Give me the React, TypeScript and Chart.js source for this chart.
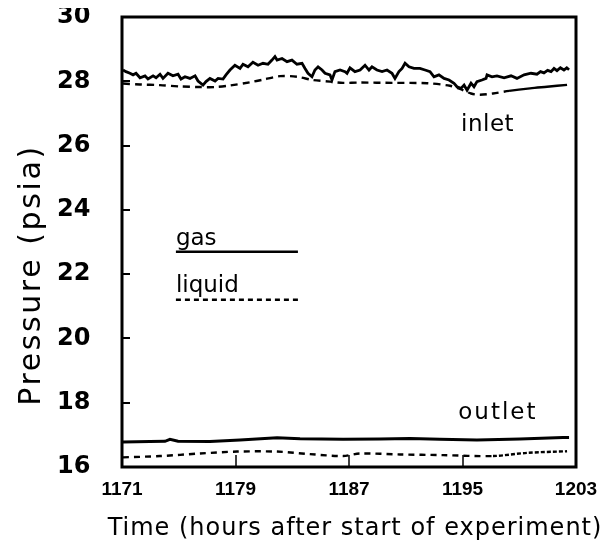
import React, { useEffect, useRef } from 'react';
import { Chart, registerables } from 'chart.js';

Chart.register(...registerables);

// ---- data ----
const X_TICKS = [1171, 1179, 1187, 1195, 1203];
const Y_TICKS = [16, 18, 20, 22, 24, 26, 28, 30];

const inletGasT = [1171.07, 1171.28, 1171.56, 1171.78, 1171.99, 1172.27, 1172.62, 1172.83, 1173.19, 1173.4, 1173.68, 1173.89, 1174.24, 1174.59, 1174.95, 1175.16, 1175.44, 1175.79, 1176.15, 1176.36, 1176.71, 1176.92, 1177.2, 1177.56, 1177.77, 1178.12, 1178.33, 1178.61, 1178.96, 1179.32, 1179.53, 1179.88, 1180.23, 1180.59, 1180.94, 1181.29, 1181.57, 1181.78, 1181.93, 1182.28, 1182.63, 1182.98, 1183.33, 1183.69, 1183.9, 1184.11, 1184.39, 1184.6, 1184.82, 1185.1, 1185.31, 1185.66, 1185.8, 1186.01, 1186.37, 1186.72, 1186.86, 1187.07, 1187.42, 1187.78, 1188.13, 1188.41, 1188.62, 1188.97, 1189.33, 1189.68, 1190.03, 1190.24, 1190.52, 1190.74, 1190.95, 1191.23, 1191.58, 1192.0, 1192.36, 1192.71, 1192.99, 1193.34, 1193.7, 1194.05, 1194.4, 1194.61, 1194.89, 1195.11, 1195.32, 1195.6, 1195.81, 1196.02, 1196.37, 1196.66, 1196.73, 1197.08, 1197.43, 1197.93, 1198.42, 1198.84, 1199.34, 1199.83, 1200.25, 1200.5, 1200.74, 1201.0, 1201.24, 1201.45, 1201.66, 1201.9, 1202.15, 1202.35, 1202.51];
const inletGasP = [28.35, 28.3, 28.25, 28.2, 28.25, 28.11, 28.17, 28.07, 28.17, 28.11, 28.22, 28.09, 28.25, 28.17, 28.22, 28.07, 28.14, 28.09, 28.17, 28.01, 27.88, 27.99, 28.09, 28.01, 28.09, 28.07, 28.2, 28.35, 28.5, 28.4, 28.53, 28.45, 28.59, 28.5, 28.56, 28.53, 28.66, 28.77, 28.66, 28.71, 28.61, 28.66, 28.53, 28.56, 28.4, 28.25, 28.14, 28.35, 28.45, 28.35, 28.25, 28.2, 28.04, 28.3, 28.35, 28.3, 28.25, 28.42, 28.3, 28.35, 28.5, 28.35, 28.45, 28.35, 28.3, 28.35, 28.25, 28.09, 28.3, 28.4, 28.56, 28.45, 28.4, 28.4, 28.35, 28.3, 28.14, 28.2, 28.09, 28.04, 27.94, 27.83, 27.78, 27.88, 27.72, 27.94, 27.83, 27.99, 28.04, 28.09, 28.2, 28.14, 28.17, 28.11, 28.17, 28.09, 28.2, 28.25, 28.22, 28.3, 28.26, 28.34, 28.3, 28.4, 28.33, 28.42, 28.35, 28.42, 28.36];

const inletLiqT = [1171.07, 1172.27, 1173.68, 1175.09, 1176.5, 1177.56, 1178.61, 1180.02, 1180.94, 1182.14, 1183.33, 1184.46, 1185.66, 1186.58, 1187.78, 1190.1, 1192.5, 1194.12, 1194.82, 1195.6, 1196.23, 1197.15, 1198.28, 1199.76, 1200.96, 1202.37];
const inletLiqP = [27.93, 27.9, 27.88, 27.84, 27.82, 27.82, 27.87, 27.97, 28.05, 28.16, 28.14, 28.04, 27.99, 27.95, 27.96, 27.95, 27.94, 27.86, 27.76, 27.62, 27.58, 27.62, 27.7, 27.78, 27.83, 27.89];

const outletGasT = [1171.07, 1172.97, 1174.03, 1174.38, 1174.95, 1177.2, 1179.32, 1181.93, 1183.55, 1186.58, 1189.18, 1191.3, 1193.41, 1196.02, 1199.05, 1202.08, 1202.51];
const outletGasP = [16.78, 16.79, 16.8, 16.86, 16.8, 16.79, 16.84, 16.91, 16.88, 16.86, 16.87, 16.89, 16.86, 16.84, 16.87, 16.92, 16.92];

const outletLiqT = [1171.07, 1173.68, 1176.5, 1179.11, 1181.93, 1184.25, 1186.58, 1187.78, 1190.6, 1193.63, 1197.15, 1199.55, 1202.37];
const outletLiqP = [16.3, 16.34, 16.42, 16.48, 16.48, 16.4, 16.34, 16.42, 16.39, 16.37, 16.34, 16.44, 16.49];

const zip = (t: number[], p: number[]) => t.map((v, i) => ({ x: v, y: p[i] }));

const FONT = "'DejaVu Sans', 'Liberation Sans', sans-serif";

const decorPlugin = {
  id: 'decor',
  afterDatasetsDraw(chart: any) {
    const { ctx, chartArea: a, scales } = chart;
    const x = scales.x;
    const y = scales.y;
    ctx.save();
    ctx.strokeStyle = '#000';
    ctx.fillStyle = '#000';
    // inward ticks
    ctx.lineWidth = 2;
    Y_TICKS.forEach((v) => {
      const py = Math.round(y.getPixelForValue(v));
      ctx.beginPath();
      ctx.moveTo(a.left, py);
      ctx.lineTo(a.left + 8, py);
      ctx.stroke();
    });
    ctx.lineWidth = 1.5;
    X_TICKS.slice(1, -1).forEach((v) => {
      const px = Math.round(x.getPixelForValue(v));
      ctx.beginPath();
      ctx.moveTo(px, a.bottom);
      ctx.lineTo(px, a.bottom - 12);
      ctx.stroke();
    });
    // frame
    ctx.lineWidth = 3;
    ctx.strokeRect(a.left, a.top, a.right - a.left, a.bottom - a.top);

    // curve labels
    ctx.textAlign = 'left';
    ctx.textBaseline = 'middle';
    ctx.font = `23px ${FONT}`;
    (ctx as any).letterSpacing = '0.5px';
    ctx.fillText('inlet', x.getPixelForValue(1194.9), y.getPixelForValue(26.64));
    (ctx as any).letterSpacing = '2px';
    ctx.fillText('outlet', x.getPixelForValue(1194.7), y.getPixelForValue(17.68));

    // legend
    (ctx as any).letterSpacing = '0px';
    ctx.textBaseline = 'alphabetic';
    ctx.font = `23px ${FONT}`;
    const lx0 = x.getPixelForValue(1174.8);
    const lx1 = x.getPixelForValue(1183.4);
    ctx.fillText('gas', lx0, y.getPixelForValue(22.92));
    ctx.fillText('liquid', lx0, y.getPixelForValue(21.43));
    ctx.lineWidth = 2.5;
    ctx.setLineDash([]);
    ctx.beginPath();
    ctx.moveTo(lx0, y.getPixelForValue(22.7));
    ctx.lineTo(lx1, y.getPixelForValue(22.7));
    ctx.stroke();
    ctx.setLineDash([5, 4]);
    ctx.beginPath();
    ctx.moveTo(lx0, y.getPixelForValue(21.2));
    ctx.lineTo(lx1, y.getPixelForValue(21.2));
    ctx.stroke();
    ctx.setLineDash([]);

    // axis titles
    ctx.save();
    ctx.translate(24, 267);
    ctx.rotate(-Math.PI / 2);
    ctx.textAlign = 'center';
    ctx.textBaseline = 'middle';
    ctx.font = `30px ${FONT}`;
    (ctx as any).letterSpacing = '2.6px';
    ctx.fillText('Pressure (psia)', 0, 0);
    ctx.restore();

    ctx.textAlign = 'center';
    ctx.textBaseline = 'alphabetic';
    ctx.font = `24px ${FONT}`;
    (ctx as any).letterSpacing = '1px';
    ctx.fillText('Time (hours after start of experiment)', 347, 527);
    ctx.restore();
  },
};

export default function App() {
  const ref = useRef<HTMLCanvasElement | null>(null);

  useEffect(() => {
    if (!ref.current) return;
    const chart = new Chart(ref.current, {
      type: 'line',
      data: {
        datasets: [
          {
            label: 'inlet gas',
            data: zip(inletGasT, inletGasP),
            borderColor: '#000',
            borderWidth: 2.8,
            pointRadius: 0,
            tension: 0,
          },
          {
            label: 'inlet liquid',
            data: zip(inletLiqT, inletLiqP),
            borderColor: '#000',
            borderWidth: 2.4,
            pointRadius: 0,
            tension: 0.3,
            segment: {
              borderDash: (c: any) => (c.p0.parsed.x >= 1198.2 ? [] : [7, 5]),
            },
          },
          {
            label: 'outlet gas',
            data: zip(outletGasT, outletGasP),
            borderColor: '#000',
            borderWidth: 3,
            pointRadius: 0,
            tension: 0,
          },
          {
            label: 'outlet liquid',
            data: zip(outletLiqT, outletLiqP),
            borderColor: '#000',
            borderWidth: 2.4,
            pointRadius: 0,
            tension: 0.3,
            segment: {
              borderDash: (c: any) => (c.p0.parsed.x >= 1197.1 ? [4, 2] : [6, 5]),
            },
          },
        ],
      },
      options: {
        responsive: false,
        animation: false,
        events: [],
        layout: { padding: { left: 49, right: 25, top: 9, bottom: 0 } },
        plugins: { legend: { display: false }, tooltip: { enabled: false } },
        scales: {
          x: {
            type: 'linear',
            min: 1171,
            max: 1203,
            grid: { display: false, drawTicks: false },
            border: { display: false },
            afterBuildTicks: (s: any) => {
              s.ticks = X_TICKS.map((v) => ({ value: v }));
            },
            afterFit: (s: any) => {
              s.height = 77;
            },
            ticks: {
              color: '#000',
              padding: 0,
              maxRotation: 0,
              autoSkip: false,
              font: { family: "'Liberation Sans', sans-serif", size: 19, weight: 'bold', lineHeight: '46px' },
              callback: (v: any) => String(v),
            },
          },
          y: {
            type: 'linear',
            min: 16,
            max: 30,
            grid: { display: false, drawTicks: false },
            border: { display: false },
            afterBuildTicks: (s: any) => {
              s.ticks = Y_TICKS.map((v) => ({ value: v }));
            },
            afterFit: (s: any) => {
              s.width = 65;
            },
            ticks: {
              color: '#000',
              padding: 0,
              crossAlign: 'far',
              autoSkip: false,
              font: { family: FONT, size: 24, weight: 'bold', lineHeight: 0.7 },
              callback: (v: any) => String(v),
            },
          },
        },
      },
      plugins: [decorPlugin],
    });
    return () => chart.destroy();
  }, []);

  return <canvas ref={ref} width={593} height={536} style={{ display: 'block' }} />;
}
